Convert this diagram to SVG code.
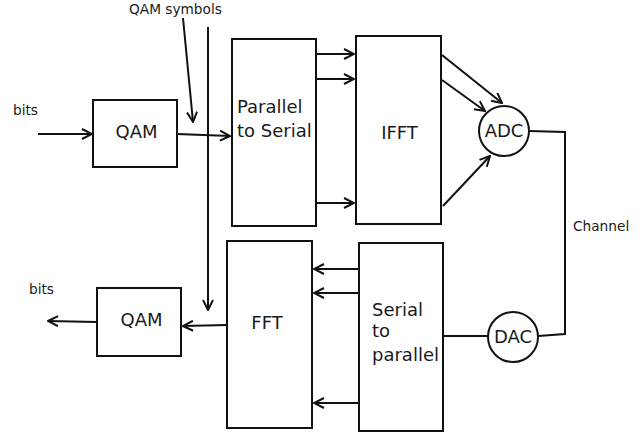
<svg xmlns="http://www.w3.org/2000/svg" width="644" height="436" viewBox="0 0 644 436">
<style>
.box{fill:#fff;stroke:#111;stroke-width:2}
.ln{fill:none;stroke:#111;stroke-width:2}
.ar{fill:none;stroke:#111;stroke-width:2;marker-end:url(#ah)}
.t{font-family:"DejaVu Sans",sans-serif;font-size:18px;fill:#1a1a1a}
.s{font-family:"DejaVu Sans",sans-serif;font-size:13.7px;fill:#1a1a1a}
</style>
<defs>
<marker id="ah" viewBox="0 0 12 12" refX="11" refY="6" markerWidth="12" markerHeight="12" markerUnits="userSpaceOnUse" orient="auto">
<path d="M1,1 L11,6 L1,11" fill="none" stroke="#111" stroke-width="2"/>
</marker>
</defs>
<rect width="644" height="436" fill="#fff"/>
<g id="connectors">
<line class="ar" x1="38" y1="134" x2="92" y2="134"/>
<line class="ar" x1="183" y1="18" x2="193" y2="122"/>
<line class="ar" x1="208" y1="27" x2="208" y2="310"/>
<line class="ar" x1="177" y1="134" x2="230" y2="136"/>
<line class="ar" x1="316" y1="54" x2="354" y2="54"/>
<line class="ar" x1="316" y1="79" x2="354" y2="79"/>
<line class="ar" x1="316" y1="203" x2="354" y2="203"/>
<line class="ar" x1="442" y1="55" x2="502" y2="103"/>
<line class="ar" x1="442" y1="80" x2="485" y2="111"/>
<line class="ar" x1="443" y1="206" x2="490" y2="156"/>
<polyline class="ln" points="529,131 565,132 565,334 538,336"/>
<line class="ln" x1="443" y1="336" x2="488" y2="336"/>
<line class="ar" x1="358" y1="269" x2="314" y2="269"/>
<line class="ar" x1="358" y1="293" x2="314" y2="293"/>
<line class="ar" x1="358" y1="403" x2="314" y2="403"/>
<line class="ar" x1="227" y1="325" x2="183" y2="326"/>
<line class="ar" x1="97" y1="322" x2="48" y2="321"/>
</g>
<text class="s" x="13" y="115">bits</text>
<text class="s" x="129" y="14">QAM symbols</text>
<text class="s" x="573" y="231">Channel</text>
<text class="s" x="29" y="294">bits</text>
<g id="qam-tx">
<rect class="box" x="93" y="100" width="84" height="67"/>
<text class="t" x="136.5" y="138" text-anchor="middle">QAM</text>
</g>
<g id="p2s">
<rect class="box" x="232" y="39" width="84" height="187"/>
<text class="t" x="237" y="113">Parallel</text>
<text class="t" x="237" y="137">to Serial</text>
</g>
<g id="ifft">
<rect class="box" x="356" y="36" width="85" height="188"/>
<text class="t" x="399.5" y="139" text-anchor="middle">IFFT</text>
</g>
<g id="adc">
<circle class="box" cx="504" cy="131" r="25"/>
<text class="t" x="504" y="137" text-anchor="middle">ADC</text>
</g>
<g id="dac">
<circle class="box" cx="513" cy="337" r="25"/>
<text class="t" x="513" y="343" text-anchor="middle">DAC</text>
</g>
<g id="s2p">
<rect class="box" x="359" y="243" width="84" height="188"/>
<text class="t" x="372" y="316">Serial</text>
<text class="t" x="372" y="337">to</text>
<text class="t" x="372" y="361">parallel</text>
</g>
<g id="fft">
<rect class="box" x="227" y="241" width="85" height="187"/>
<text class="t" x="267" y="329" text-anchor="middle">FFT</text>
</g>
<g id="qam-rx">
<rect class="box" x="97" y="288" width="84" height="68"/>
<text class="t" x="141.5" y="326" text-anchor="middle">QAM</text>
</g>
</svg>
